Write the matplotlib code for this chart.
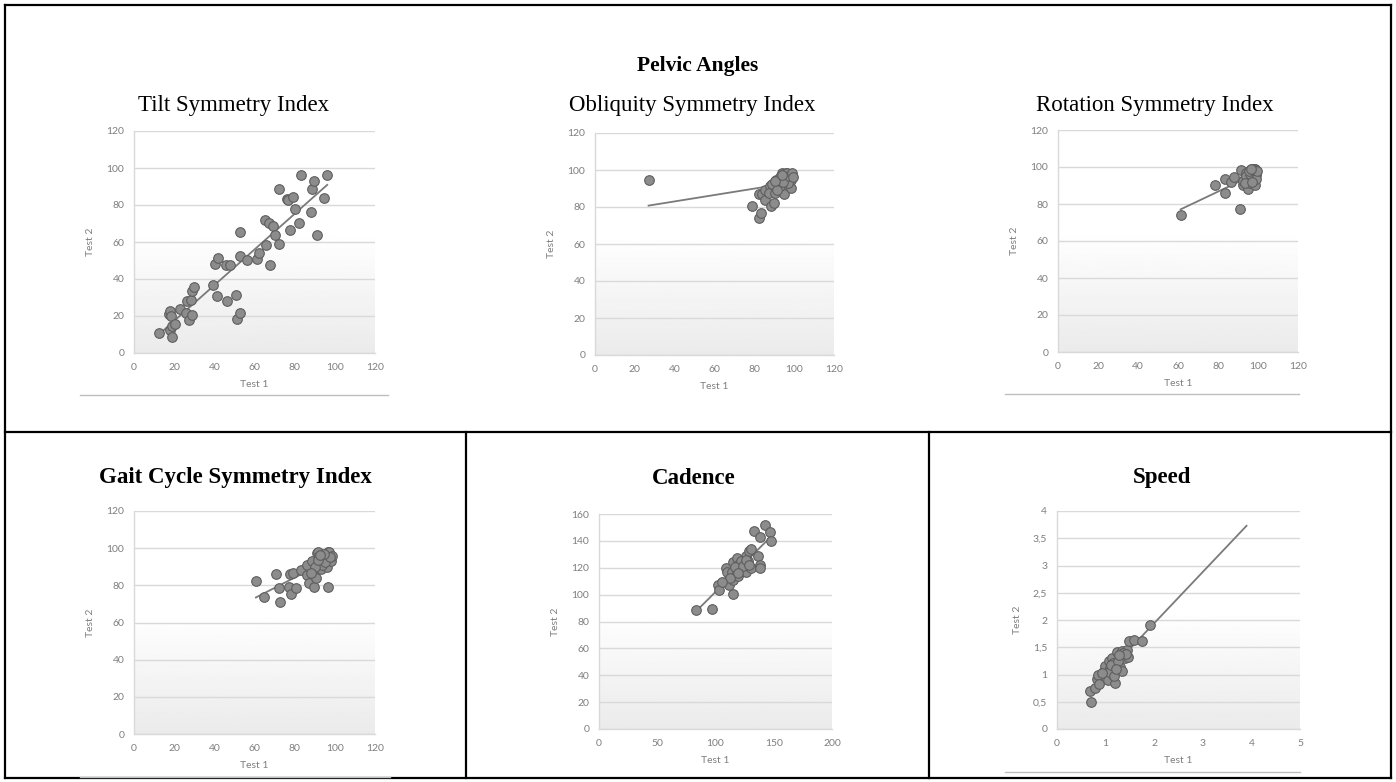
import numpy as np
import matplotlib
matplotlib.use("Agg")
import matplotlib.pyplot as plt
from matplotlib.lines import Line2D
from matplotlib.ticker import FuncFormatter

plt.rcParams['font.family'] = ['Lato', 'DejaVu Sans']

W, H = 1396, 782

# Tilt Symmetry Index
tilt_x = [12.5, 17.3, 18.1, 18.6, 17.8, 19.1, 20.6, 18.9, 23.1, 25.8, 26.4, 28.3, 27.4, 29.1,
          29.1, 29.8, 39.2, 40.4, 41.7, 41.4, 45.7, 47.9, 46.2, 51.0, 51.2, 52.8, 52.7, 53.0,
          56.5, 61.2, 62.2, 65.3, 67.0, 69.0, 65.6, 67.8, 70.1, 72.3, 72.3, 76.3, 76.8, 79.4,
          80.1, 77.6, 82.3, 83.3, 87.9, 88.7, 89.7, 91.2, 94.6, 96.2]
tilt_y = [10.8, 20.9, 22.7, 19.8, 12.6, 14.4, 15.9, 8.5, 23.6, 21.8, 28.1, 28.5, 18.0, 20.7,
          33.3, 35.7, 36.9, 47.9, 51.2, 30.6, 47.4, 47.7, 27.9, 31.2, 18.6, 21.8, 65.2, 52.4,
          50.1, 51.0, 54.1, 72.1, 70.1, 68.8, 58.4, 47.4, 63.6, 58.7, 88.6, 83.4, 82.9, 84.3,
          77.8, 66.3, 70.3, 96.4, 76.0, 88.8, 93.0, 63.8, 84.0, 96.4]

# Obliquity Symmetry Index
obl_x = [26.9, 78.9, 82.2, 83.2, 82.2, 83.6, 85.4, 85.6, 87.7, 87.4, 88.9, 90.3, 88.6, 89.9,
         91.1, 92.4, 93.6, 94.1, 95.3, 96.1, 97.4, 98.1, 95.3, 94.8, 98.6, 92.8, 96.4, 98.6,
         96.9, 91.4, 93.0, 95.8, 97.0, 98.5, 94.5, 90.5, 95.0, 96.5, 97.5, 98.8, 99.2, 94.0]
obl_y = [94.4, 80.3, 74.3, 76.5, 86.8, 86.8, 83.9, 89.3, 91.5, 87.5, 92.2, 87.5, 80.3, 82.1,
         94.7, 92.9, 95.6, 98.3, 97.4, 98.3, 98.0, 97.4, 90.2, 87.2, 90.2, 91.1, 94.7, 94.7,
         92.9, 89.3, 96.0, 96.5, 97.6, 97.8, 93.5, 94.0, 98.0, 98.5, 96.8, 98.2, 96.0, 97.2]

# Rotation Symmetry Index
rot_x = [61.3, 78.3, 83.5, 83.5, 86.7, 87.8, 91.2, 91.7, 92.5, 93.3, 94.2, 95.0, 95.5, 96.2,
         96.8, 97.5, 98.3, 98.8, 98.5, 99.2, 97.2, 92.5, 94.0, 96.0, 97.8, 98.9, 93.5, 95.5,
         99.0, 97.0, 98.0, 99.4, 96.5]
rot_y = [74.3, 90.5, 93.6, 86.0, 92.1, 94.5, 77.2, 98.4, 90.1, 93.9, 96.6, 88.0, 93.7, 91.2,
         98.8, 97.5, 99.1, 95.5, 90.5, 98.1, 94.8, 92.7, 95.0, 96.0, 99.0, 96.8, 91.5, 97.8,
         93.5, 92.0, 98.5, 97.8, 99.0]

# Gait Cycle Symmetry Index
gait_x = [60.7, 64.5, 70.6, 72.0, 72.7, 77.3, 78.1, 77.9, 79.4, 80.9, 83.1, 86.3, 86.3, 87.3,
          88.7, 89.6, 89.6, 90.4, 91.2, 91.7, 92.2, 92.6, 92.9, 94.2, 95.1, 96.2, 96.7, 97.2,
          97.9, 96.7, 98.6, 93.5, 95.0, 90.0, 91.5, 97.5, 94.5, 88.0, 92.5]
gait_y = [82.5, 73.6, 85.9, 78.3, 71.1, 79.2, 75.1, 86.2, 86.9, 78.7, 88.2, 90.9, 85.5, 81.0,
          93.2, 87.3, 78.9, 84.2, 97.5, 98.1, 95.7, 91.8, 88.7, 93.6, 95.4, 90.0, 98.1, 97.7,
          93.0, 79.2, 95.9, 91.0, 92.5, 90.0, 93.5, 95.0, 97.0, 86.5, 96.5]

# Cadence
cad_x = [83.5, 97.3, 101.9, 103.0, 109.0, 109.3, 109.9, 111.3, 114.2, 115.0, 115.3, 115.0,
         117.9, 118.8, 119.3, 119.3, 122.2, 123.6, 125.0, 126.5, 126.5, 127.9, 128.5, 130.8,
         130.8, 132.8, 136.5, 138.5, 138.5, 138.5, 142.2, 146.8, 147.9, 121.5, 117.0, 124.0,
         112.5, 119.0, 126.0, 129.0, 106.0]
cad_y = [88.8, 89.3, 107.4, 103.4, 109.4, 119.8, 116.6, 107.4, 116.8, 100.5, 124.0, 111.1,
         114.9, 127.3, 122.3, 113.6, 119.8, 117.3, 123.5, 128.5, 116.8, 124.8, 132.7, 134.0,
         119.8, 147.6, 128.5, 122.3, 119.8, 142.6, 151.6, 146.9, 140.2, 125.0, 120.5, 121.0,
         112.5, 116.0, 126.0, 122.0, 109.5]

# Speed
spd_x = [0.70, 0.68, 0.79, 0.82, 0.84, 0.86, 0.96, 0.99, 1.03, 1.04, 1.06, 1.09, 1.13, 1.15,
         1.20, 1.20, 1.24, 1.29, 1.30, 1.33, 1.34, 1.40, 1.44, 1.46, 1.48, 1.59, 1.74, 1.91,
         1.16, 1.08, 1.12, 1.25, 1.35, 1.42, 1.18, 1.28, 0.92, 1.22]
spd_y = [0.49, 0.70, 0.75, 0.92, 1.00, 0.82, 1.06, 1.15, 1.00, 0.89, 1.24, 1.12, 1.31, 1.00,
         0.85, 1.21, 1.42, 1.30, 1.13, 1.07, 1.44, 1.31, 1.45, 1.33, 1.62, 1.64, 1.61, 1.90,
         1.21, 1.05, 1.18, 1.25, 1.40, 1.38, 0.97, 1.36, 1.02, 1.10]

tick_col = '#7f7f7f'
grid_col = '#d9d9d9'


def px_axes(left, right, top, bottom):
    return fig.add_axes([left / W, 1 - bottom / H, (right - left) / W, (bottom - top) / H])


def hline(x0, x1, y, color='black', lw=1.6):
    fig.add_artist(Line2D([x0 / W, x1 / W], [1 - y / H, 1 - y / H], color=color, lw=lw,
                          transform=fig.transFigure))


def vline(x, y0, y1, color='black', lw=1.6):
    fig.add_artist(Line2D([x / W, x / W], [1 - y0 / H, 1 - y1 / H], color=color, lw=lw,
                          transform=fig.transFigure))


def scatter_panel(ax, x, y, xmax, xstep, ymax, ystep, xfit_end=None, comma=False):
    x = np.array(x)
    y = np.array(y)
    # excel-like gradient fill
    grad = np.ones((200, 1))
    n = 90
    grad[n:, 0] = np.linspace(1.0, 0.92, 200 - n)
    ax.imshow(grad, extent=[0, xmax, 0, ymax], aspect='auto', cmap='gray', vmin=0, vmax=1,
              zorder=-1, interpolation='bilinear')
    ax.set_xlim(0, xmax)
    ax.set_ylim(0, ymax)
    ax.set_xticks(np.arange(0, xmax + xstep / 2, xstep))
    ax.set_yticks(np.arange(0, ymax + ystep / 2, ystep))
    ax.yaxis.grid(True, color=grid_col, lw=1)
    ax.set_axisbelow(True)
    for s in ['top', 'right']:
        ax.spines[s].set_visible(False)
    for s in ['left', 'bottom']:
        ax.spines[s].set_color(grid_col)
        ax.spines[s].set_linewidth(1)
    ax.tick_params(length=0, labelsize=7.5, labelcolor=tick_col, pad=7)
    if comma:
        fmt = FuncFormatter(lambda v, p: ('%g' % v).replace('.', ','))
        ax.xaxis.set_major_formatter(fmt)
        ax.yaxis.set_major_formatter(fmt)
    ax.set_xlabel('Test 1', fontsize=7.5, color=tick_col, labelpad=6)
    ax.set_ylabel('Test 2', fontsize=7.5, color=tick_col, labelpad=8)
    k, b = np.polyfit(x, y, 1)
    x_end = x.max() if xfit_end is None else xfit_end
    xx = np.array([x.min(), x_end])
    ax.plot(xx, k * xx + b, color='#7a7a7a', lw=1.3, zorder=2)
    ax.scatter(x, y, s=48, facecolor='#8c8c8c', edgecolor='#5e5e5e', linewidth=0.8, zorder=3)


fig = plt.figure(figsize=(W / 100, H / 100), dpi=100)

# table frame
hline(5, 1391, 5)
hline(5, 1391, 778)
vline(5, 5, 778)
vline(1391, 5, 778)
hline(5, 1391, 432)
vline(466, 432, 778)
vline(929, 432, 778)

serif = ['Liberation Serif', 'DejaVu Serif']
fig.text(698 / W, 1 - 66 / H, 'Pelvic Angles', ha='center', va='center', fontsize=15.5,
         fontweight='bold', family=serif)
fig.text(234 / W, 1 - 105 / H, 'Tilt Symmetry Index', ha='center', va='center', fontsize=16.5,
         family=serif)
fig.text(692 / W, 1 - 105 / H, 'Obliquity Symmetry Index', ha='center', va='center',
         fontsize=16.5, family=serif)
fig.text(1155 / W, 1 - 105 / H, 'Rotation Symmetry Index', ha='center', va='center',
         fontsize=16.5, family=serif)
fig.text(235 / W, 1 - 478 / H, 'Gait Cycle Symmetry Index', ha='center', va='center',
         fontsize=16.5, fontweight='bold', family=serif)
fig.text(694 / W, 1 - 478 / H, 'Cadence', ha='center', va='center', fontsize=16.5,
         fontweight='bold', family=serif)
fig.text(1162 / W, 1 - 478 / H, 'Speed', ha='center', va='center', fontsize=16.5,
         fontweight='bold', family=serif)

ax1 = px_axes(134, 375, 131, 353)
scatter_panel(ax1, tilt_x, tilt_y, 120, 20, 120, 20)
ax2 = px_axes(595, 834, 133, 355)
scatter_panel(ax2, obl_x, obl_y, 120, 20, 120, 20, xfit_end=100)
ax3 = px_axes(1058, 1298, 130, 352)
scatter_panel(ax3, rot_x, rot_y, 120, 20, 120, 20)
ax4 = px_axes(134, 375, 511, 734)
scatter_panel(ax4, gait_x, gait_y, 120, 20, 120, 20, xfit_end=100)
ax5 = px_axes(599, 832, 514, 729)
scatter_panel(ax5, cad_x, cad_y, 200, 50, 160, 20)
ax6 = px_axes(1057, 1300, 511, 729)
scatter_panel(ax6, spd_x, spd_y, 5, 1, 4, 0.5, xfit_end=3.9, comma=True)

# chart-area bottom edges
hline(80, 388, 395, color='#bfbfbf', lw=1)
hline(1005, 1299, 394, color='#bfbfbf', lw=1)
hline(80, 390, 777, color='#bfbfbf', lw=1)
hline(1005, 1300, 772, color='#bfbfbf', lw=1)

fig.savefig('out.png', dpi=100)
